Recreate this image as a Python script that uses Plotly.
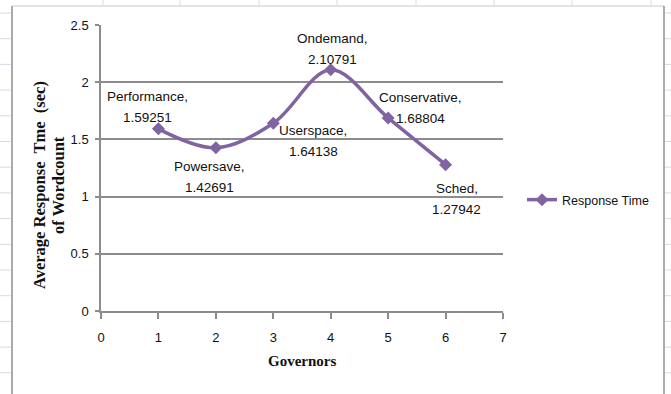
import plotly.graph_objects as go

# ---- data ----
governors = [1, 2, 3, 4, 5, 6]
response_time = [1.59251, 1.42691, 1.64138, 2.10791, 1.68804, 1.27942]
names = ["Performance,", "Powersave,", "Userspace,", "Ondemand,", "Conservative,", "Sched,"]
value_text = ["1.59251", "1.42691", "1.64138", "2.10791", "1.68804", "1.27942"]
x_ticks = [0, 1, 2, 3, 4, 5, 6, 7]
y_ticks = [0, 0.5, 1, 1.5, 2, 2.5]

# label offsets in pixels (dx right, dy down) for label centre
label_offsets = [(-11, -22), (-6, 29), (40, 18), (2, -21), (32, -10), (11, 34)]

W, H = 671, 394
L, R, T, B = 101, 503, 25, 311
PURPLE = "#8064A2"
GRID = "#8c8c8c"
TICKFONT = dict(family="Liberation Sans", size=13, color="#111111")
LABELFONT = dict(family="Liberation Sans", size=13.5, color="#111111")

fig = go.Figure()
fig.add_trace(go.Scatter(
    x=governors, y=response_time, mode="lines+markers", name="Response Time",
    line=dict(color=PURPLE, width=3.5, shape="spline", smoothing=1.0),
    marker=dict(symbol="diamond", size=10, color=PURPLE),
))

annotations = []
for xv, yv, nm, vt, (dx, dy) in zip(governors, response_time, names, value_text, label_offsets):
    for txt, off in ((nm, -10.5), (vt, 10.5)):
        annotations.append(dict(
            x=xv, y=yv, xref="x", yref="y", text=txt, showarrow=False,
            xanchor="center", yanchor="middle", xshift=dx, yshift=-(dy + off),
            font=LABELFONT,
        ))

def px(xp):
    return (xp - L) / (R - L)

def py(yp):
    return (B - yp) / (B - T)

TITLEFONT = dict(family="Liberation Serif", size=16.5, color="#111111")
for txt, xp in (("<b>Average Response  Tme  (sec)</b>", 40), ("<b>of Wordcount</b>", 59)):
    annotations.append(dict(
        x=px(xp), y=py(185), xref="paper", yref="paper", textangle=-90,
        text=txt, showarrow=False, xanchor="center", yanchor="middle", font=TITLEFONT,
    ))
annotations.append(dict(
    x=px(302), y=py(361), xref="paper", yref="paper",
    text="<b>Governors</b>", showarrow=False, xanchor="center", yanchor="middle",
    font=dict(family="Liberation Serif", size=15, color="#111111"),
))

shapes = []
# chart border
BORDER = "#8f8f8f"
shapes.append(dict(type="line", xref="paper", yref="paper", x0=px(12), x1=px(12), y0=py(6), y1=py(394), line=dict(color=BORDER, width=1.5)))
shapes.append(dict(type="line", xref="paper", yref="paper", x0=px(12), x1=px(664), y0=py(6), y1=py(6), line=dict(color="#c8c8c8", width=1)))
shapes.append(dict(type="line", xref="paper", yref="paper", x0=px(664), x1=px(664), y0=py(6), y1=py(394), line=dict(color=BORDER, width=1.5)))
# faint spreadsheet cell lines outside chart
CELL = "#d5dbe6"
for xp in [103, 180, 259, 337, 416, 494, 572, 651]:
    shapes.append(dict(type="line", xref="paper", yref="paper", x0=px(xp), x1=px(xp), y0=py(0), y1=py(5), line=dict(color=CELL, width=1)))
for i in range(15):
    yp = 13 + i * 25.7
    shapes.append(dict(type="line", xref="paper", yref="paper", x0=px(0), x1=px(11), y0=py(yp), y1=py(yp), line=dict(color=CELL, width=1)))
    shapes.append(dict(type="line", xref="paper", yref="paper", x0=px(665), x1=px(671), y0=py(yp), y1=py(yp), line=dict(color=CELL, width=1)))

fig.update_layout(
    width=W, height=H,
    margin=dict(l=L, r=W - R, t=T, b=H - B),
    paper_bgcolor="white", plot_bgcolor="white",
    showlegend=True,
    legend=dict(x=px(522), y=py(200), xanchor="left", yanchor="middle",
                font=dict(family="Liberation Sans", size=12.5, color="#111111"),
                bgcolor="rgba(0,0,0,0)", itemwidth=30),
    annotations=annotations, shapes=shapes,
    xaxis=dict(range=[0, 7], tickvals=x_ticks, showgrid=False, zeroline=False,
               showline=True, linecolor=GRID, linewidth=1.5,
               ticks="outside", ticklen=6, tickcolor=GRID, tickwidth=1.5,
               ticklabelstandoff=8, tickfont=TICKFONT, fixedrange=True),
    yaxis=dict(range=[0, 2.5], tickvals=y_ticks, showgrid=True, gridcolor=GRID, gridwidth=1.5,
               zeroline=False, showline=True, linecolor=GRID, linewidth=1.5,
               ticks="outside", ticklen=4, tickcolor=GRID, tickwidth=1.5,
               ticklabelstandoff=4, tickfont=TICKFONT, fixedrange=True),
)

fig.write_html("out.html")
